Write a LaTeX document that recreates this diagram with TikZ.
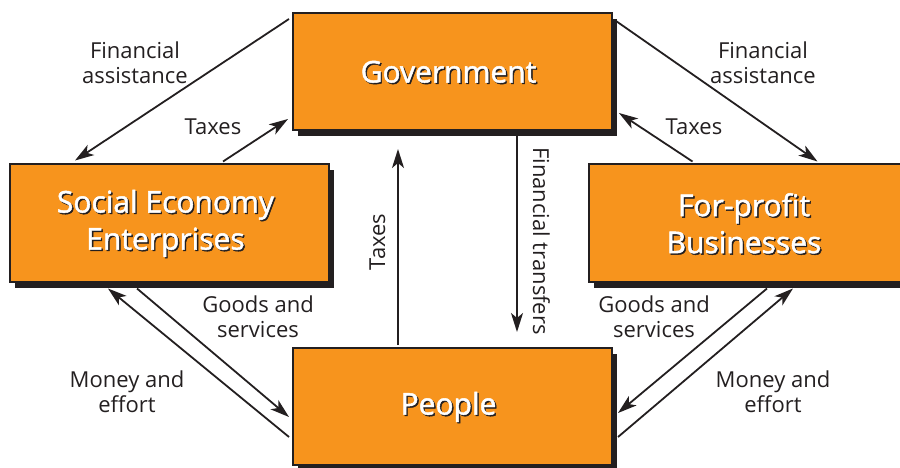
\documentclass[tikz,border=0pt]{standalone}
\usepackage{fontspec}
\setmainfont{Open Sans}
\newfontfamily\boxfont[FakeBold=1.6]{Open Sans}
\usetikzlibrary{arrows.meta,shadows}

\definecolor{boxorange}{HTML}{F7941D}
\definecolor{inkdark}{HTML}{231F20}

% white box text with a dark shadow behind it
\newcommand{\shadowed}[1]{\leavevmode\rlap{\kern1.4pt\raisebox{-1.4pt}{\color{inkdark}#1}}{\color{white}#1}}

\tikzset{
    flowbox/.style = {draw = inkdark, line width = 2pt, fill = boxorange,
        minimum width = 319pt, minimum height = 117pt, inner sep = 0pt,
        drop shadow = {shadow xshift = 5pt, shadow yshift = -6pt, fill = inkdark, opacity = 1}},
    boxtext/.style = {align = center, inner sep = 0pt, xshift = -4pt, yshift = -1pt,
        font = \boxfont\fontsize{30}{37}\selectfont},
    flow/.style = {draw = inkdark, line width = 1.8pt,
        -{Stealth[length = 19pt, width = 12pt, inset = 5pt]}},
    lbl/.style = {align = center, inner sep = 0pt, text = inkdark,
        font = \fontsize{22}{25}\selectfont}
}

\begin{document}
\begin{tikzpicture}[x = 1pt, y = -1pt]
    \useasboundingbox (0, 0) rectangle (900, 468);

    % boxes
    \node (gov) [flowbox, label = {[boxtext]center:\shadowed{Government}}] at (452.5, 71.5) {};
    \node (see) [flowbox, label = {[boxtext]center:{\shadowed{Social Economy}\\\shadowed{Enterprises}}}] at (169.5, 223) {};
    \node (fpb) [flowbox, label = {[boxtext]center:{\shadowed{For-profit}\\\shadowed{Businesses}}}] at (748, 223) {};
    \node (ppl) [flowbox, label = {[boxtext]center:\shadowed{People}}] at (452.5, 406.5) {};

    % flows
    \draw [flow] ([shift = {(-3, 7)}] gov.north west) -- ([shift = {(66, -3)}] see.north west);
    \draw [flow] ([shift = {(214, -2)}] see.north west) -- ([shift = {(-4, -12)}] gov.south west);
    \draw [flow] ([shift = {(3, 9)}] gov.north east) -- ([shift = {(230, -2)}] fpb.north west);
    \draw [flow] ([shift = {(105, -2)}] fpb.north west) -- ([shift = {(6, -18)}] gov.south east);

    \draw [flow] ([shift = {(-54.5, -2)}] ppl.north) -- ([shift = {(-54.5, 18)}] gov.south);
    \draw [flow] ([shift = {(64.5, 0)}] gov.south) -- ([shift = {(64.5, -15)}] ppl.north);

    \draw [flow] ([shift = {(-32.5, 6)}] see.south) -- ([shift = {(-3, 10.5)}] ppl.west);
    \draw [flow] ([shift = {(-3, 30.5)}] ppl.west) -- ([shift = {(-61.5, 6)}] see.south);
    \draw [flow] ([shift = {(19, 6)}] fpb.south) -- ([shift = {(5, 6.5)}] ppl.east);
    \draw [flow] ([shift = {(5, 30.5)}] ppl.east) -- ([shift = {(45, 6)}] fpb.south);

    % labels
    \node (fal) [lbl] at (135, 63) {Financial\\assistance};
    \node (txl) [lbl, anchor = base] at (213, 135) {Taxes};
    \node (far) [lbl] at (763, 63) {Financial\\assistance};
    \node (txr) [lbl, anchor = base] at (694, 135) {Taxes};
    \node (txm) [lbl, anchor = base, rotate = 90] at (385, 242) {Taxes};
    \node (ftm) [lbl, anchor = base, rotate = -90] at (533, 241) {Financial transfers};
    \node (gsl) [lbl] at (258, 317) {Goods and\\services};
    \node (mel) [lbl] at (127, 392) {Money and\\effort};
    \node (gsr) [lbl] at (654, 317) {Goods and\\services};
    \node (mer) [lbl] at (773, 392) {Money and\\effort};
\end{tikzpicture}
\end{document}
